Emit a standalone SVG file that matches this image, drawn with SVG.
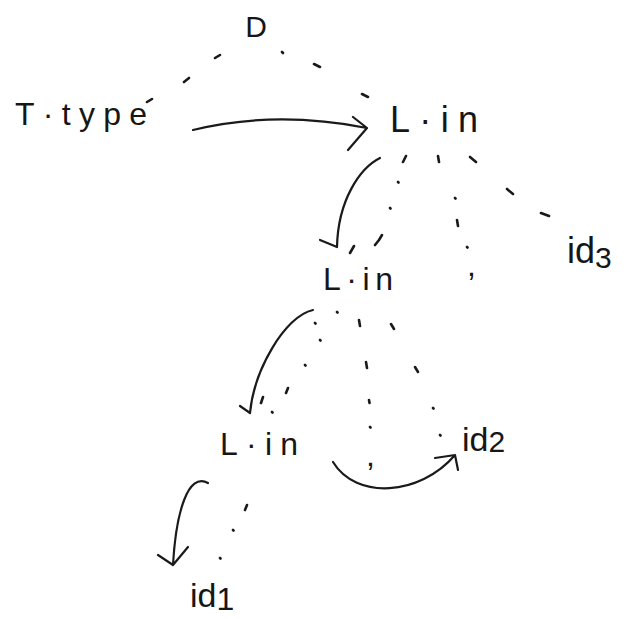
<svg xmlns="http://www.w3.org/2000/svg" width="629" height="619" viewBox="0 0 629 619">
  <style>
    .t{font-family:"Liberation Sans",Arial,sans-serif;fill:#161616}
    .dash{stroke:#1a1a1a;stroke-width:2.6;stroke-linecap:round;fill:none}
    .arc{stroke:#1a1a1a;stroke-width:2.2;stroke-linecap:round;stroke-linejoin:round;fill:none}
  </style>
  <rect width="629" height="619" fill="#ffffff"/>

  <!-- parse-tree nodes -->
  <g id="node-D"><text class="t" x="256" y="37" font-size="30" text-anchor="middle">D</text></g>
  <g id="node-Ttype"><text class="t" x="15" y="125" font-size="32" textLength="132" lengthAdjust="spacing">T·type</text></g>
  <g id="node-Lin-top"><text class="t" x="390" y="132" font-size="36" textLength="88" lengthAdjust="spacing">L·in</text></g>
  <g id="node-Lin-mid"><text class="t" x="323" y="290" font-size="32" textLength="70" lengthAdjust="spacing">L·in</text></g>
  <g id="node-comma-mid"><text class="t" x="467" y="276" font-size="32">,</text></g>
  <g id="node-id3"><text class="t" x="567" y="263" font-size="36">id<tspan font-size="30" dy="5">3</tspan></text></g>
  <g id="node-Lin-bot"><text class="t" x="220" y="455" font-size="32" textLength="78" lengthAdjust="spacing">L·in</text></g>
  <g id="node-comma-bot"><text class="t" x="366" y="466" font-size="32">,</text></g>
  <g id="node-id2"><text class="t" x="462" y="451" font-size="34">id<tspan font-size="30" dy="1">2</tspan></text></g>
  <g id="node-id1"><text class="t" x="190" y="607" font-size="34">id<tspan font-size="32" dy="3">1</tspan></text></g>

  <g id="connectors">
    <!-- dotted tree edges -->
    <path class="dash" d="M215 58 l5 -3 M184 82 l5 -4 M147 102 l5 -3
                          M282 52 l1 1 M314 64 l6 3 M362 94 l6 3
                          M403 162 l3 -6 M398 182 l0.5 0.5 M390 208 l0.5 0.5 M379 240 l3 -5
                          M350 253 l4 -7 M375 245 l4 -5
                          M438 156 l1 6 M455 198 l0.5 0.5 M457 220 l1 6 M467 247 l0.5 0.5
                          M470 157 l6 5 M507 189 l6 5 M541 213 l8 3
                          M337 312 l0.5 0.5 M315 323 l0.5 0.5 M320 340 l0.5 0.5 M305 365 l0.5 0.5
                          M286 393 l2 -5 M261 403 l2 -6 M272 412 l0.5 0.5
                          M359 320 l1 6 M366 362 l1 6 M369 400 l0.5 3 M370 427 l0.5 0.5
                          M391 324 l3 5 M415 367 l3 5 M433 408 l0.5 0.5 M440 435 l0.5 0.5
                          M245 510 l2 -5 M233 530 l0.5 0.5 M220 558 l0.5 0.5"/>

    <!-- dependency arrows -->
    <path class="arc" d="M193 130 Q275 110 367 128 M353 117 L367 128 L348 150"/>
    <path class="arc" d="M380 158 C360 168 338 200 337 247 M320 240 L337 247"/>
    <path class="arc" d="M313 310 C285 316 254 370 250 413 M240 406 L250 413"/>
    <path class="arc" d="M208 483 C188 472 176 512 173 565 M158 555 L173 565 L188 547"/>
    <path class="arc" d="M333 462 C356 500 420 496 455 455 M435 458 L455 455 L458 470"/>
  </g>
</svg>
